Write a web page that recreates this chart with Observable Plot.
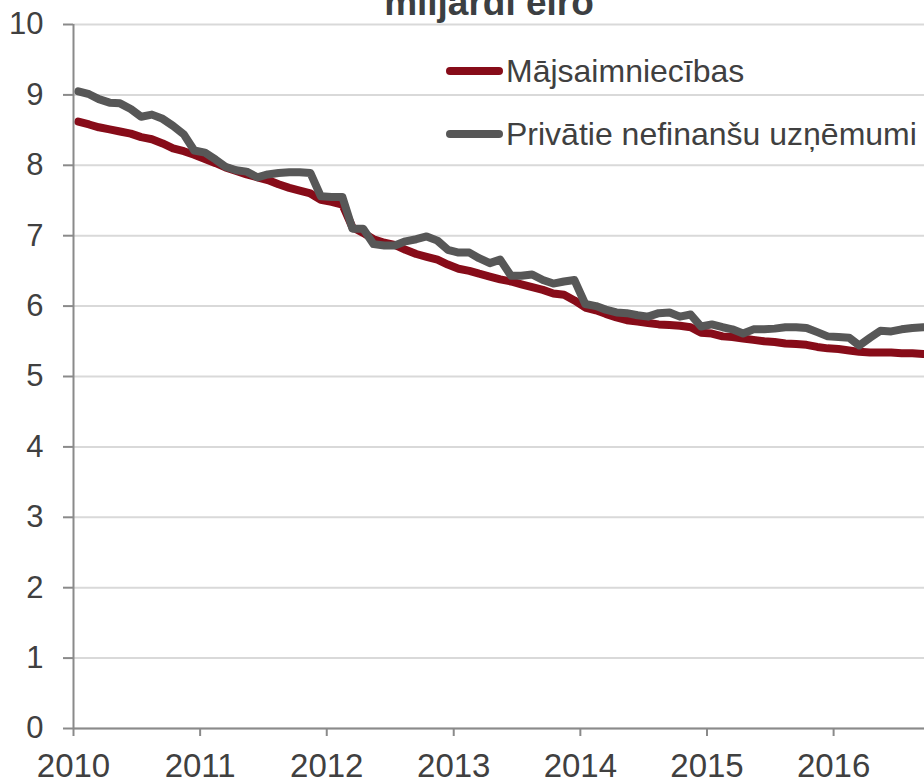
<!DOCTYPE html>
<html>
<head>
<meta charset="utf-8">
<script src="https://cdn.jsdelivr.net/npm/d3@7"></script>
<script src="https://cdn.jsdelivr.net/npm/@observablehq/plot@0.6"></script>
<style>
  html, body { margin: 0; padding: 0; background: #fff; }
  #chart svg { display: block; }
</style>
</head>
<body>
<div id="chart"></div>
<script>
// ---- data ----
const titleText = "miljardi eiro";
const seriesNames = ["Mājsaimniecības", "Privātie nefinanšu uzņēmumi"];
const seriesColors = ["#870c19", "#575757"];
const startYear = 2010;
const yearTicks = [2010, 2011, 2012, 2013, 2014, 2015, 2016];
const yTicks = [0, 1, 2, 3, 4, 5, 6, 7, 8, 9, 10];

// monthly values, Jan 2010 onward (billions of euro)
const households = [
  8.62, 8.58, 8.54, 8.51, 8.48, 8.45, 8.40, 8.37, 8.31, 8.24, 8.20, 8.15,
  8.09, 8.03, 7.97, 7.92, 7.87, 7.83, 7.79, 7.73, 7.68, 7.64, 7.60, 7.51,
  7.48, 7.44, 7.12, 7.04, 6.95, 6.90, 6.87, 6.80, 6.74, 6.70, 6.66, 6.59,
  6.53, 6.50, 6.46, 6.42, 6.38, 6.35, 6.31, 6.27, 6.23, 6.18, 6.16, 6.08,
  5.98, 5.94, 5.89, 5.84, 5.80, 5.78, 5.76, 5.74, 5.73, 5.72, 5.70, 5.62,
  5.61, 5.57, 5.56, 5.54, 5.52, 5.50, 5.49, 5.47, 5.46, 5.45, 5.42, 5.40,
  5.39, 5.37, 5.35, 5.34, 5.34, 5.34, 5.33, 5.33, 5.32
];
const companies = [
  9.05, 9.01, 8.94, 8.89, 8.88, 8.80, 8.69, 8.72, 8.66, 8.56, 8.44, 8.21,
  8.18, 8.08, 7.98, 7.93, 7.91, 7.83, 7.87, 7.89, 7.90, 7.90, 7.89, 7.56,
  7.55, 7.55, 7.10, 7.10, 6.88, 6.86, 6.86, 6.92, 6.95, 6.99, 6.93, 6.80,
  6.76, 6.76, 6.68, 6.61, 6.66, 6.43, 6.43, 6.45, 6.37, 6.32, 6.35, 6.37,
  6.03, 6.00, 5.95, 5.91, 5.90, 5.87, 5.85, 5.90, 5.91, 5.85, 5.88, 5.71,
  5.74, 5.70, 5.67, 5.61, 5.67, 5.67, 5.68, 5.70, 5.70, 5.69, 5.63, 5.57,
  5.56, 5.55, 5.44, 5.55, 5.65, 5.64, 5.67, 5.69, 5.70
];

// ---- derived ----
const monthDate = i => new Date(Date.UTC(startYear, i, 15));
const yearDates = yearTicks.map(y => new Date(Date.UTC(y, 0, 1)));
const xStart = new Date(Date.UTC(2010, 0, 1));
const xEnd = new Date(Date.UTC(2016, 8, 19));

const axisColor = "#8a8a8a";
const textColor = "#404040";
const font = "'Liberation Sans', Arial, Helvetica, sans-serif";

const lineOpts = (color) => ({
  x: (d, i) => monthDate(i),
  y: d => d,
  stroke: color,
  strokeWidth: 8,
  strokeLinecap: "round",
  strokeLinejoin: "round"
});

const chart = Plot.plot({
  width: 924,
  height: 780,
  marginTop: 24,
  marginBottom: 52,
  marginLeft: 73,
  marginRight: 0,
  style: { fontFamily: font, background: "#fff", color: textColor },
  x: { type: "utc", domain: [xStart, xEnd] },
  y: { domain: [0, 10] },
  marks: [
    Plot.gridY(yTicks, { stroke: "#d9d9d9", strokeWidth: 2, strokeOpacity: 1 }),
    Plot.lineY(households, lineOpts(seriesColors[0])),
    Plot.lineY(companies, lineOpts(seriesColors[1])),
    Plot.ruleY([0], { stroke: axisColor, strokeWidth: 2 }),
    Plot.ruleX([xStart], { stroke: axisColor, strokeWidth: 2 }),
    Plot.axisY(yTicks, {
      tickSize: 10, tickPadding: 20, fontSize: 31,
      tickFormat: d => String(d),
      stroke: axisColor, strokeWidth: 2, fill: textColor, label: null
    }),
    Plot.axisX(yearDates, {
      tickSize: 8, tickPadding: 17, fontSize: 33,
      tickFormat: d => String(d.getUTCFullYear()),
      stroke: axisColor, strokeWidth: 2, fill: textColor, label: null
    })
  ]
});

document.getElementById("chart").appendChild(chart);

// title and legend
const svg = d3.select(chart);
svg.append("text")
  .attr("x", 489).attr("y", 15)
  .attr("text-anchor", "middle")
  .attr("font-family", font)
  .attr("font-weight", "bold")
  .attr("font-size", 37)
  .attr("fill", "#3c3f42")
  .text(titleText);

const legendRows = [{ y: 71 }, { y: 134 }];
seriesNames.forEach((name, k) => {
  const g = svg.append("g");
  g.append("line")
    .attr("x1", 450).attr("x2", 499)
    .attr("y1", legendRows[k].y).attr("y2", legendRows[k].y)
    .attr("stroke", seriesColors[k])
    .attr("stroke-width", 8)
    .attr("stroke-linecap", "round");
  g.append("text")
    .attr("x", 506).attr("y", legendRows[k].y + 11)
    .attr("text-anchor", "start")
    .attr("font-family", font)
    .attr("font-size", 32)
    .attr("fill", textColor)
    .text(name);
});
</script>
</body>
</html>
